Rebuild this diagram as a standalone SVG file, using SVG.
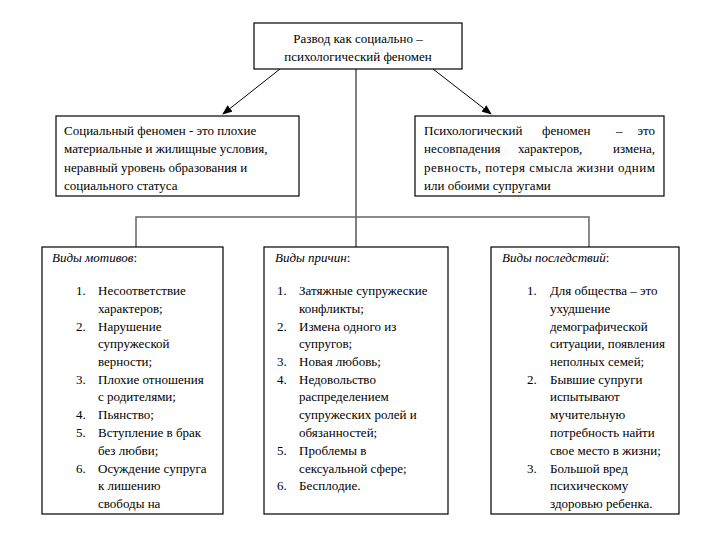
<svg xmlns="http://www.w3.org/2000/svg" width="709" height="534" viewBox="0 0 709 534">
<defs>
<style>
text{font-size:13px;fill:#000}
.box{fill:#fff;stroke:#000;stroke-width:1.2}
.it{font-style:italic}
.c{text-anchor:middle}
.e{text-anchor:end}
.ln{stroke:#000;stroke-width:1;fill:none}
.gl{stroke:#666;stroke-width:1.5;fill:none}
</style>
<marker id="ah" markerWidth="10" markerHeight="8" refX="9" refY="4" orient="auto" markerUnits="userSpaceOnUse">
<path d="M0,0 L10,4 L0,8 Z" fill="#000"/>
</marker>
</defs>
<rect width="709" height="534" fill="#fff"/>
<g id="connectors">
<line class="ln" x1="280" y1="69" x2="223" y2="114" marker-end="url(#ah)"/>
<line class="ln" x1="433" y1="69" x2="491" y2="114" marker-end="url(#ah)"/>
<line class="ln" x1="356" y1="69" x2="356" y2="247"/>
<polyline class="gl" points="136,247 136,217 589,217 589,247"/>
</g>
<g font-family="'Liberation Serif', 'Times New Roman', 'DejaVu Serif', serif">
<g id="root">
<rect class="box" x="254" y="23" width="208" height="46"/>
<text class="c" x="358" y="42.5">Развод как социально –</text>
<text class="c" x="358" y="60.5">психологический феномен</text>
</g>
<g id="social">
<rect class="box" x="56" y="116" width="243" height="80"/>
<text x="64" y="135">Социальный феномен - это плохие</text>
<text x="64" y="153">материальные и жилищные условия,</text>
<text x="64" y="172">неравный уровень образования и</text>
<text x="64" y="190">социального статуса</text>
</g>
<g id="psych">
<rect class="box" x="415" y="116" width="249" height="80"/>
<text x="424" y="135">Психологический</text>
<text x="542" y="135">феномен</text>
<text x="616" y="135">–</text>
<text class="e" x="655" y="135">это</text>
<text x="424" y="153">несовпадения</text>
<text x="518" y="153">характеров,</text>
<text class="e" x="655" y="153">измена,</text>
<text x="424" y="172" textLength="231" lengthAdjust="spacing">ревность, потеря смысла жизни одним</text>
<text x="424" y="190">или обоими супругами</text>
</g>
<g id="motives">
<rect class="box" x="42" y="247" width="181" height="267"/>
<text class="it" x="52" y="262">Виды мотивов<tspan font-style="normal">:</tspan></text>
<text x="76" y="295">1.</text><text x="98" y="295">Несоответствие</text>
<text x="98" y="313">характеров;</text>
<text x="76" y="331">2.</text><text x="98" y="331">Нарушение</text>
<text x="98" y="348">супружеской</text>
<text x="98" y="366">верности;</text>
<text x="76" y="384">3.</text><text x="98" y="384">Плохие отношения</text>
<text x="98" y="401">с родителями;</text>
<text x="76" y="419">4.</text><text x="98" y="419">Пьянство;</text>
<text x="76" y="437">5.</text><text x="98" y="437">Вступление в брак</text>
<text x="98" y="455">без любви;</text>
<text x="76" y="473">6.</text><text x="98" y="473">Осуждение супруга</text>
<text x="98" y="490">к лишению</text>
<text x="98" y="508">свободы на</text>
</g>
<g id="causes">
<rect class="box" x="264" y="247" width="184" height="267"/>
<text class="it" x="275" y="262">Виды причин<tspan font-style="normal">:</tspan></text>
<text x="277" y="295">1.</text><text x="299" y="295">Затяжные супружеские</text>
<text x="299" y="313">конфликты;</text>
<text x="277" y="331">2.</text><text x="299" y="331">Измена одного из</text>
<text x="299" y="348">супругов;</text>
<text x="277" y="366">3.</text><text x="299" y="366">Новая любовь;</text>
<text x="277" y="384">4.</text><text x="299" y="384">Недовольство</text>
<text x="299" y="401">распределением</text>
<text x="299" y="419">супружеских ролей и</text>
<text x="299" y="437">обязанностей;</text>
<text x="277" y="455">5.</text><text x="299" y="455">Проблемы в</text>
<text x="299" y="473">сексуальной сфере;</text>
<text x="277" y="490">6.</text><text x="299" y="490">Бесплодие.</text>
</g>
<g id="consequences">
<rect class="box" x="491" y="247" width="188" height="267"/>
<text class="it" x="502" y="262">Виды последствий<tspan font-style="normal">:</tspan></text>
<text x="527" y="295">1.</text><text x="550" y="295">Для общества – это</text>
<text x="550" y="313">ухудшение</text>
<text x="550" y="331">демографической</text>
<text x="550" y="348">ситуации, появления</text>
<text x="550" y="366">неполных семей;</text>
<text x="527" y="384">2.</text><text x="550" y="384">Бывшие супруги</text>
<text x="550" y="401">испытывают</text>
<text x="550" y="419">мучительную</text>
<text x="550" y="437">потребность найти</text>
<text x="550" y="455">свое место в жизни;</text>
<text x="527" y="473">3.</text><text x="550" y="473">Большой вред</text>
<text x="550" y="490">психическому</text>
<text x="550" y="508">здоровью ребенка.</text>
</g>
</g>
</svg>
